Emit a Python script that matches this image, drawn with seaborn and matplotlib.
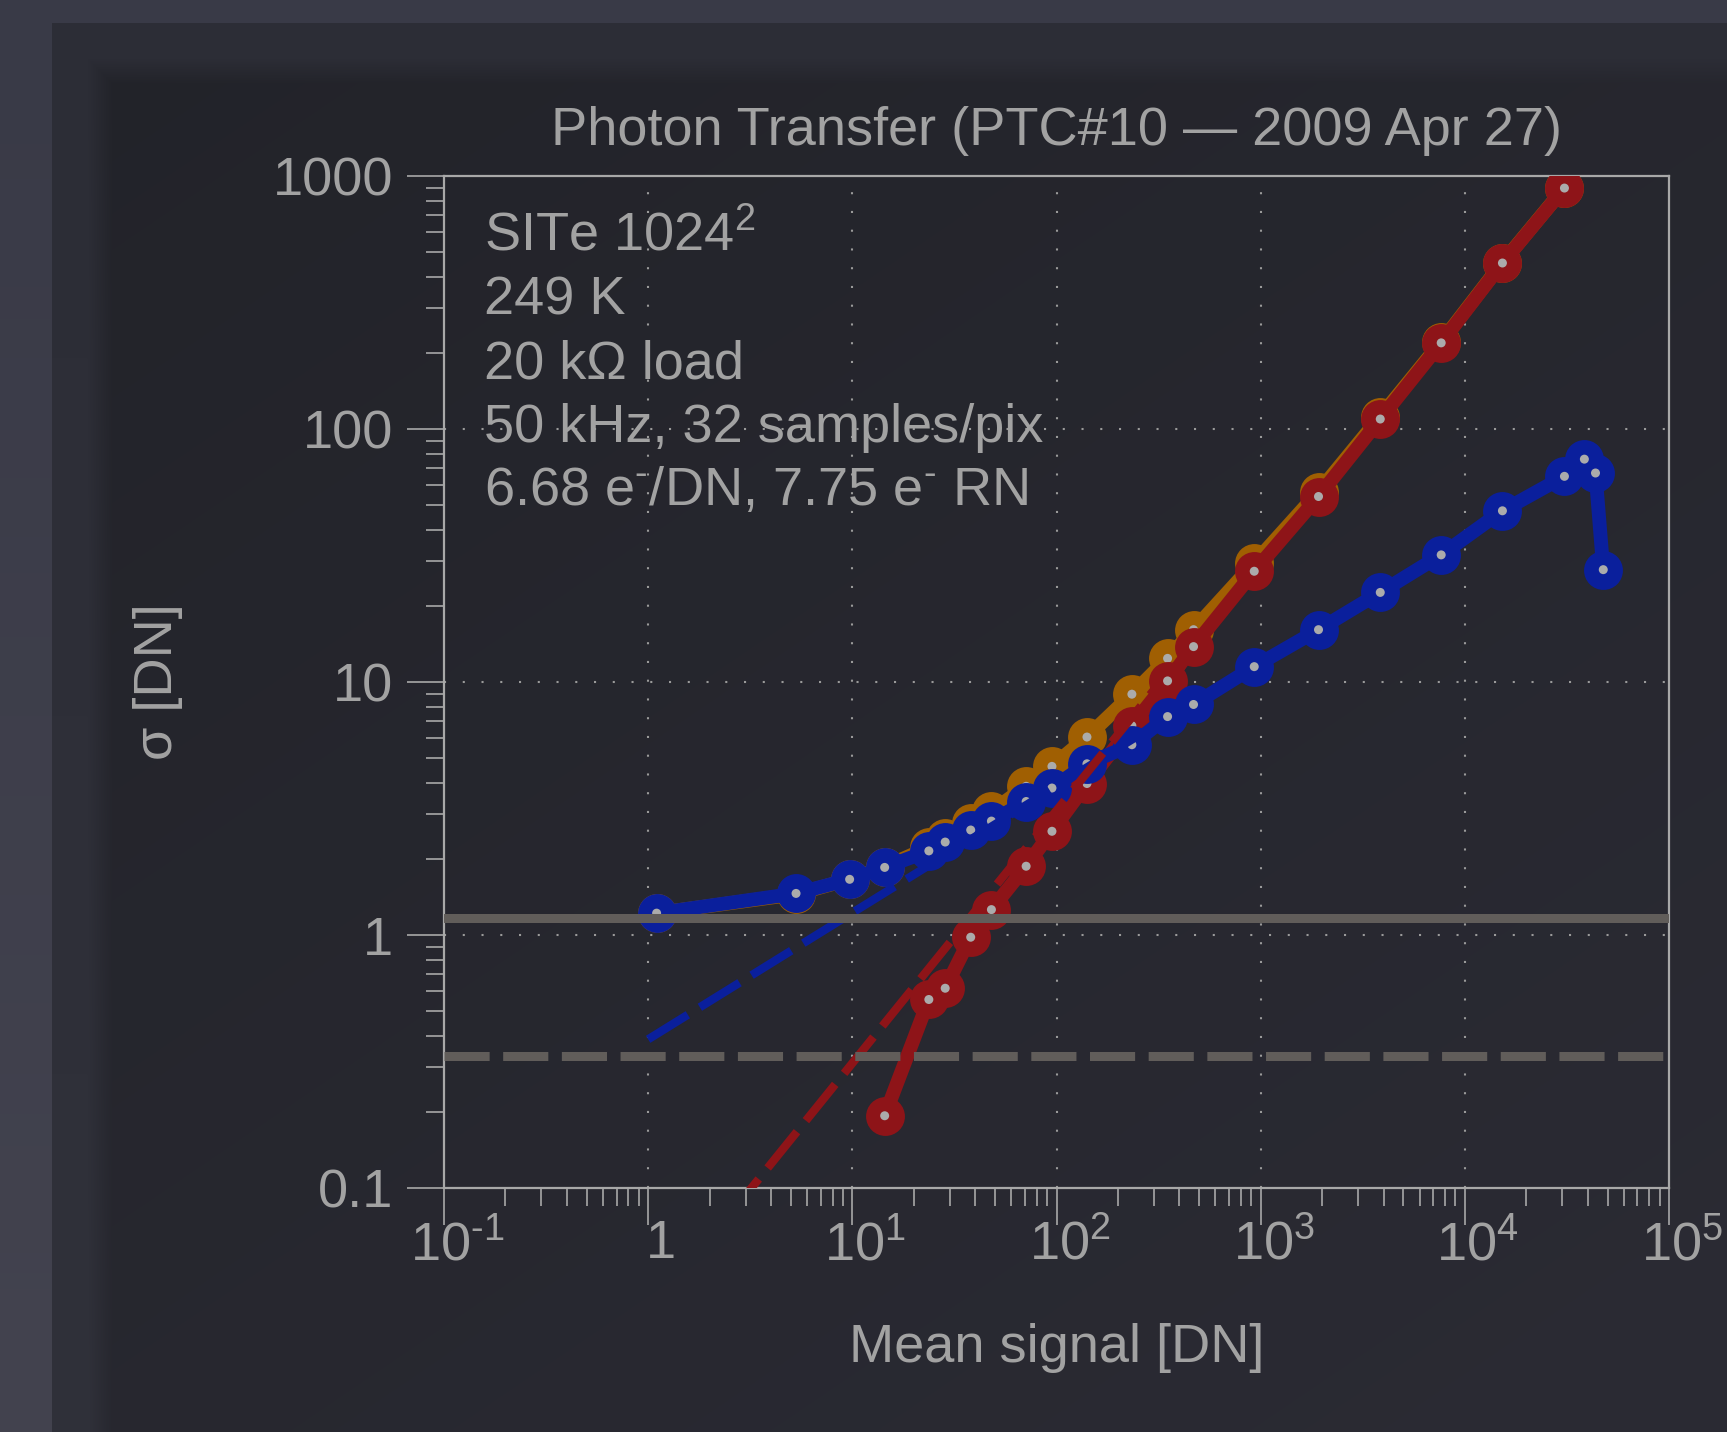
import numpy as np
import matplotlib
matplotlib.use("Agg")
import matplotlib.pyplot as plt
from matplotlib.colors import to_rgb
from matplotlib.ticker import FixedLocator, FixedFormatter, LogLocator, NullFormatter
from matplotlib.transforms import ScaledTranslation
import seaborn as sns

# ---------------- data ----------------
signal = [1.10, 5.3, 9.7, 14.4, 23.7, 28.5, 38, 48, 71, 95, 141, 234, 350, 469,
          930, 1920, 3853, 7660, 15280, 30750, 38500, 43650, 47650]
sigma_shot = [1.22, 1.46, 1.66, 1.85, 2.15, 2.33, 2.60, 2.82, 3.37, 3.81, 4.75, 5.65,
              7.3, 8.15, 11.5, 16.1, 22.6, 31.8, 47.5, 65.0, 76.0, 67.0, 27.8]
signal_total = [1.10, 5.3, 9.7, 14.4, 23.7, 28.5, 38, 48, 71, 95, 141, 234, 350, 469,
                930, 1920, 3853, 7660, 15280, 30750]
sigma_total = [1.22, 1.45, 1.66, 1.86, 2.22, 2.42, 2.76, 3.08, 3.87, 4.64, 6.06, 8.95,
               12.4, 16.1, 29.5, 56.5, 112, 221, 455, 898]
signal_fpn = [14.4, 23.7, 28.5, 38, 48, 71, 95, 141, 234, 350, 469,
              930, 1920, 3853, 7660, 15280, 30750]
sigma_fpn = [0.193, 0.556, 0.616, 0.98, 1.26, 1.87, 2.57, 3.97, 6.72, 10.1, 13.8,
             27.4, 54.1, 109.5, 219, 453, 896]
shot_fit_x = [1.0, 275.0]
shot_fit_y = [0.387, 6.42]
fpn_fit_x = [2.5, 300.0]
fpn_fit_y = [0.078, 9.3]
read_noise = 1.17
quant_noise = 0.333
info_lines = [r"SITe 1024$^{2}$", "249 K", "20 kΩ load", "50 kHz, 32 samples/pix",
              r"6.68 e$^{\text{-}}$/DN, 7.75 e$^{\text{-}}$ RN"]
xtick_vals = [0.1, 1, 10, 100, 1000, 10000, 100000]
xtick_labels = [r"$\mathdefault{10^{\text{-}1}}$", "1", r"$\mathdefault{10^{1}}$", r"$\mathdefault{10^{2}}$",
                r"$\mathdefault{10^{3}}$", r"$\mathdefault{10^{4}}$", r"$\mathdefault{10^{5}}$"]
ytick_vals = [0.1, 1, 10, 100, 1000]
ytick_labels = ["0.1", "1", "10", "100", "1000"]

# ---------------- style ----------------
sns.set_theme(style="dark")
TXT = "#a2a2a2"
plt.rcParams["font.family"] = ["Liberation Sans", "DejaVu Sans"]
plt.rcParams["mathtext.fontset"] = "custom"
plt.rcParams["mathtext.rm"] = "Liberation Sans"
plt.rcParams["mathtext.it"] = "Liberation Sans:italic"
plt.rcParams["mathtext.bf"] = "Liberation Sans:bold"
plt.rcParams["mathtext.default"] = "regular"

W, H = 1727, 1432
fig = plt.figure(figsize=(W / 100, H / 100), dpi=100)
fig.patch.set_facecolor("#3c3d4a")

# background panel with soft gradient
yy, xx = np.mgrid[0:H, 0:W].astype(float)
def lerp(c1, c2, t):
    a = np.array(to_rgb(c1)); b = np.array(to_rgb(c2))
    return a + (b - a) * t[..., None]
outer = lerp("#393a47", "#43434f", yy / H)
tdiag = np.clip((xx / W) * 0.45 + (yy / H) * 0.55, 0, 1)
inner = lerp("#222329", "#2b2b34", tdiag)
band = lerp("#2c2d36", "#30313a", yy / H)
d = np.minimum(xx - 52, yy - 23)
w_band = np.clip((60 - d) / 25.0, 0, 1)
panel = inner * (1 - w_band[..., None]) + band * w_band[..., None]
img = np.where(((xx >= 52) & (yy >= 23))[..., None], panel, outer)
bgax = fig.add_axes([0, 0, 1, 1], zorder=-10)
bgax.imshow(img, extent=[0, 1, 0, 1], aspect="auto", interpolation="bilinear")
bgax.axis("off")

ax = fig.add_axes([444 / W, 1 - 1188 / H, 1225 / W, 1012 / H])
ax.set_facecolor("none")
ax.set_xscale("log")
ax.set_yscale("log")

BLUE = "#0a1f9c"
RED = "#8e1418"
ORANGE = "#a05f02"
DOT = "#ababab"
GRAY = "#615d5a"

series = [(signal_total, sigma_total, ORANGE, 2),
          (signal_fpn, sigma_fpn, RED, 3),
          (signal, sigma_shot, BLUE, 4)]
for xs, ys, col, z in series:
    sns.lineplot(x=xs, y=ys, ax=ax, color=col, lw=10, marker="o", markersize=28,
                 markeredgewidth=0, estimator=None, sort=False, zorder=z)
    sns.scatterplot(x=xs, y=ys, ax=ax, color=DOT, s=42, edgecolor="none", zorder=z + 0.1)

sns.lineplot(x=shot_fit_x, y=shot_fit_y, ax=ax, color=BLUE, lw=6, zorder=5)
ax.lines[-1].set_dashes((5.6, 1.7))
sns.lineplot(x=fpn_fit_x, y=fpn_fit_y, ax=ax, color=RED, lw=6, zorder=5)
ax.lines[-1].set_dashes((5.6, 1.7))

ax.axhline(read_noise, color=GRAY, lw=6.5, zorder=6)
ax.axhline(quant_noise, color=GRAY, lw=6.5, zorder=6, dashes=(5.0, 1.5))

ax.set_xlim(0.1, 1e5)
ax.set_ylim(0.1, 1000)

# grid
for v in [1, 10, 100, 1000, 10000]:
    ax.axvline(v, color="#9a9a9a", lw=1.5, dashes=(1, 8), zorder=0.5)
for v in [1, 10, 100]:
    ax.axhline(v, color="#9a9a9a", lw=1.5, dashes=(1, 8), zorder=0.5)
ax.grid(False)

# spines and ticks
for s in ax.spines.values():
    s.set_visible(True)
    s.set_color("#a8a8a8")
    s.set_linewidth(1.6)
ax.xaxis.set_major_locator(FixedLocator(xtick_vals))
ax.xaxis.set_major_formatter(FixedFormatter(xtick_labels))
ax.yaxis.set_major_locator(FixedLocator(ytick_vals))
ax.yaxis.set_major_formatter(FixedFormatter(ytick_labels))
ax.xaxis.set_minor_locator(LogLocator(base=10, subs=np.arange(2, 10), numticks=20))
ax.yaxis.set_minor_locator(LogLocator(base=10, subs=np.arange(2, 10), numticks=20))
ax.xaxis.set_minor_formatter(NullFormatter())
ax.yaxis.set_minor_formatter(NullFormatter())
ax.tick_params(which="major", direction="out", length=26.5, width=1.2, color="#a8a8a8",
               labelsize=39, labelcolor=TXT, bottom=True, left=True, top=False, right=False)
ax.tick_params(which="minor", direction="out", length=13, width=1.2, color="#a8a8a8",
               bottom=True, left=True, top=False, right=False)
ax.tick_params(axis="y", which="major", pad=10)
ax.tick_params(axis="x", which="major", pad=-4)
for lbl in ax.get_xticklabels():
    lbl.set_transform(lbl.get_transform() + ScaledTranslation(0.13, 0, fig.dpi_scale_trans))

ax.set_title("Photon Transfer (PTC#10 — 2009 Apr 27)", fontsize=39, color=TXT, pad=22)
ax.set_xlabel("Mean signal [DN]", fontsize=39, color=TXT)
ax.xaxis.set_label_coords(0.5, -(1323 - 1188) / 1012)
ax.set_ylabel("σ [DN]", fontsize=39, color=TXT)
ax.yaxis.set_label_coords((183 - 444) / 1225, 0.5)

baselines = [250, 314, 378, 442, 505]
for txt, b in zip(info_lines, baselines):
    ax.text((484 - 444) / 1225, 1 - (b - 176) / 1012, txt, transform=ax.transAxes,
            fontsize=39, color=TXT, va="baseline", ha="left", zorder=7)

fig.savefig("out.png", dpi=100, facecolor=fig.get_facecolor())
